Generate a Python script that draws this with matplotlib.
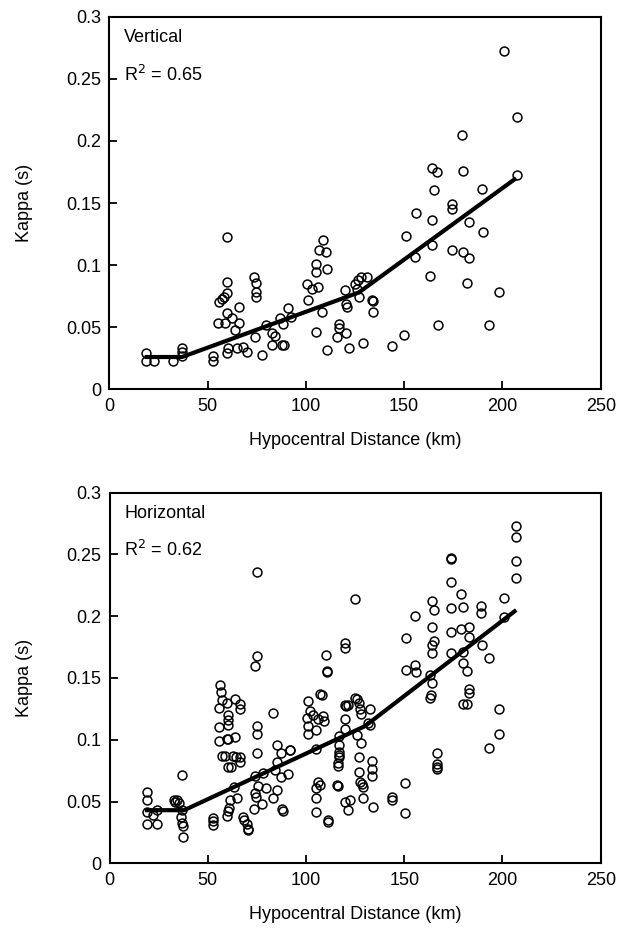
import matplotlib
matplotlib.use("Agg")
import matplotlib.pyplot as plt

plt.rcParams['font.family'] = ['Liberation Sans', 'DejaVu Sans']

# ---------------- Vertical component data ----------------
v_dist = [18.5, 18.5, 22.9, 32.6, 36.8, 36.8, 36.8,
          52.9, 52.9,
          59.7, 59.7, 60.0, 58.5, 57.2, 56.0, 66.0, 60.0, 55.4, 58.8, 62.3, 66.0, 63.9,
          60.5, 60.0, 64.8, 68.2, 69.9,
          73.6, 74.8, 74.8, 74.8, 74.1, 77.5, 79.7, 82.6, 84.3, 82.9, 87.7, 88.9,
          86.8, 88.2, 91.1, 92.3,
          108.9, 106.8, 110.2, 105.1, 105.1, 110.9, 100.7, 102.9, 106.3, 100.9, 108.0,
          105.1, 110.9,
          116.8, 116.8, 116.0, 120.4, 119.9, 121.1, 120.4, 122.1, 125.0, 126.7, 127.9,
          131.2, 125.8, 127.2, 133.5, 134.3, 134.3, 129.0,
          144.0, 149.9, 200.9, 207.2, 179.2, 164.0, 166.8, 180.1, 207.2, 165.2, 189.4,
          174.2, 174.2, 156.2, 164.0, 183.1, 189.9, 150.9, 164.1, 155.5, 174.2, 180.1,
          183.1, 163.1, 181.8, 198.1, 167.0, 193.1]
v_kappa = [0.0296, 0.0228, 0.0228, 0.0228, 0.0335, 0.0300, 0.0268,
           0.0268, 0.0230,
           0.1224, 0.0866, 0.0773, 0.0746, 0.0725, 0.0700, 0.0665, 0.0612, 0.0536, 0.0536,
           0.0571, 0.0536, 0.0477,
           0.0330, 0.0295, 0.0330, 0.0338, 0.0303,
           0.0907, 0.0858, 0.0786, 0.0746, 0.0424, 0.0276, 0.0518, 0.0451, 0.0429, 0.0357,
           0.0357, 0.0357,
           0.0571, 0.0523, 0.0657, 0.0580,
           0.1202, 0.1122, 0.1108, 0.1006, 0.0942, 0.0969, 0.0845, 0.0805, 0.0821, 0.0719,
           0.0625, 0.0464, 0.0316,
           0.0523, 0.0497, 0.0424, 0.0451, 0.0800, 0.0665, 0.0690, 0.0330, 0.0845, 0.0880,
           0.0907, 0.0907, 0.0805, 0.0746, 0.0719, 0.0712, 0.0625, 0.0370,
           0.0349, 0.0437, 0.2726, 0.2190, 0.2045, 0.1780, 0.1747, 0.1760, 0.1723, 0.1602,
           0.1610, 0.1490, 0.1449, 0.1422, 0.1363, 0.1345, 0.1269, 0.1234, 0.1162, 0.1068,
           0.1122, 0.1108, 0.1055, 0.0915, 0.0858, 0.0781, 0.0518, 0.0518]
v_fit_dist = [18, 37, 127, 207]
v_fit_kappa = [0.026, 0.026, 0.078, 0.170]

# ---------------- Horizontal component data ----------------
h_dist = [18.9, 18.9, 18.9, 18.9, 24.0, 24.0, 22.3,
          32.6, 33.5, 34.5, 35.2, 36.7, 36.5, 37.0, 37.2, 37.5, 36.8,
          52.8, 52.8, 52.8,
          56.2, 57.0, 57.4, 55.7, 59.6, 60.1, 60.1, 60.1, 55.9, 55.9, 59.6, 60.4, 57.5, 59.0,
          60.4, 62.0, 63.0, 64.6, 66.3, 66.3, 64.1, 66.3, 66.3, 64.1, 63.5, 61.3, 65.0, 60.4,
          60.8, 59.6, 67.7, 68.4, 70.0, 70.3, 70.6,
          75.2, 75.3, 74.0, 75.2, 75.3, 75.2, 74.0, 75.7, 74.0, 74.8, 73.6, 77.6, 79.9, 78.2,
          83.3, 85.1, 87.5, 91.8, 92.1, 85.0, 84.1, 87.2, 90.9, 85.0, 83.0, 87.9, 88.4,
          100.6, 101.0, 100.8, 101.1, 102.3, 103.6, 105.0, 106.3, 107.1, 108.0, 108.5, 109.0,
          110.1, 110.8, 110.9, 105.0, 106.2, 107.0, 105.0, 105.0, 105.0, 111.0, 111.3,
          115.8, 116.4, 116.8, 116.8, 116.8, 116.8, 119.7, 119.7, 120.0, 120.6, 120.0, 120.0,
          120.0, 121.4, 122.3, 116.3, 116.3, 116.8, 121.4,
          124.8, 125.2, 126.2, 127.0, 127.4, 128.0, 125.8, 127.9, 127.0, 127.0, 127.5, 128.3,
          129.0, 129.1, 132.5, 131.8, 132.8, 133.8, 133.8, 133.8, 134.2,
          144.0, 144.0, 150.2, 150.2, 150.8, 150.8, 155.3, 155.3, 156.2,
          164.3, 165.2, 164.3, 165.0, 164.3, 164.3, 163.0, 164.3, 163.4, 162.9, 166.9, 166.9,
          166.9, 166.9,
          174.0, 174.0, 174.0, 179.1, 174.0, 180.0, 174.0, 179.0, 183.0, 183.0, 174.0, 180.0,
          180.0, 182.1, 183.0, 183.0, 180.0, 182.0,
          189.2, 189.2, 189.7, 193.1, 193.1, 198.0, 198.0, 200.8, 200.8, 207.0, 207.0, 207.0,
          207.0]
h_kappa = [0.0580, 0.0510, 0.0415, 0.0320, 0.0435, 0.0320, 0.0390,
           0.0510, 0.0500, 0.0510, 0.0490, 0.0435, 0.0375, 0.0330, 0.0300, 0.0215, 0.0714,
           0.0365, 0.0340, 0.0310,
           0.1443, 0.1390, 0.1320, 0.1254, 0.1294, 0.1200, 0.1160, 0.1120, 0.1106, 0.0990,
           0.1010, 0.1010, 0.0870, 0.0870, 0.0780, 0.0780, 0.0870, 0.0860, 0.0860, 0.0820,
           0.1327, 0.1290, 0.1250, 0.1025, 0.0620, 0.0512, 0.0526, 0.0420, 0.0445, 0.0380,
           0.0378, 0.0350, 0.0320, 0.0280, 0.0270,
           0.2360, 0.1680, 0.1600, 0.1110, 0.1046, 0.0895, 0.0706, 0.0625, 0.0566, 0.0534,
           0.0440, 0.0480, 0.0607, 0.0728,
           0.1219, 0.0957, 0.0890, 0.0917, 0.0917, 0.0822, 0.0755, 0.0700, 0.0720, 0.0590,
           0.0526, 0.0440, 0.0423,
           0.1180, 0.1110, 0.1050, 0.1310, 0.1230, 0.1200, 0.1080, 0.1170, 0.1370, 0.1360,
           0.1190, 0.1150, 0.1690, 0.1556, 0.1545, 0.0922, 0.0660, 0.0634, 0.0607, 0.0526,
           0.0418, 0.0350, 0.0337,
           0.0634, 0.0810, 0.0880, 0.0900, 0.0957, 0.1030, 0.1785, 0.1745, 0.1280, 0.1275,
           0.1170, 0.1090, 0.0500, 0.0430, 0.0512, 0.0787, 0.0625, 0.0860, 0.1280,
           0.2136, 0.1340, 0.1330, 0.1300, 0.1250, 0.1210, 0.1040, 0.0970, 0.0863, 0.0741,
           0.0660, 0.0640, 0.0620, 0.0531, 0.1250, 0.1135, 0.1120, 0.0830, 0.0765, 0.0707,
           0.0458,
           0.0540, 0.0512, 0.0652, 0.0405, 0.1826, 0.1564, 0.2004, 0.1605, 0.1550,
           0.2125, 0.2050, 0.1915, 0.1800, 0.1770, 0.1704, 0.1524, 0.1456, 0.1362, 0.1335,
           0.0890, 0.0804, 0.0782, 0.0763,
           0.2473, 0.2460, 0.2279, 0.2184, 0.2063, 0.2077, 0.1874, 0.1900, 0.1915, 0.1834,
           0.1699, 0.1713, 0.1618, 0.1556, 0.1408, 0.1380, 0.1286, 0.1286,
           0.2082, 0.2028, 0.1766, 0.1664, 0.0930, 0.1246, 0.1044, 0.2144, 0.1996, 0.2729,
           0.2643, 0.2446, 0.2311]
h_fit_dist = [18, 38, 130, 207]
h_fit_kappa = [0.043, 0.043, 0.111, 0.205]

x_ticks = [0, 50, 100, 150, 200, 250]
y_ticks = [0, 0.05, 0.1, 0.15, 0.2, 0.25, 0.3]
y_tick_labels = ['0', '0.05', '0.1', '0.15', '0.2', '0.25', '0.3']

panels = [
    ("Vertical", "R$^2$ = 0.65", v_dist, v_kappa, v_fit_dist, v_fit_kappa,
     [109.3 / 626, 1 - 389.3 / 930, 491.4 / 626, 372.6 / 930]),
    ("Horizontal", "R$^2$ = 0.62", h_dist, h_kappa, h_fit_dist, h_fit_kappa,
     [109.5 / 626, 1 - 863.3 / 930, 491.2 / 626, 370.6 / 930]),
]

fig = plt.figure(figsize=(6.26, 9.30), dpi=100)
FS = 13

for title, r2, xd, yd, fx, fy, rect in panels:
    ax = fig.add_axes(rect)
    ax.plot(xd, yd, linestyle='none', marker='o', markersize=6.4,
            markerfacecolor='none', markeredgecolor='black', markeredgewidth=1.1)
    ax.plot(fx, fy, color='black', linewidth=3.0, solid_capstyle='butt')
    ax.set_xlim(0, 250)
    ax.set_ylim(0, 0.3)
    ax.set_xticks(x_ticks)
    ax.set_xticklabels([str(t) for t in x_ticks])
    ax.set_yticks(y_ticks)
    ax.set_yticklabels(y_tick_labels)
    ax.tick_params(direction='in', length=6, width=1.3, labelsize=FS, pad=6)
    for s in ax.spines.values():
        s.set_linewidth(1.5)
    ax.set_xlabel("Hypocentral Distance (km)", fontsize=FS)
    ax.set_ylabel("Kappa (s)", fontsize=FS)
    ax.xaxis.set_label_coords(0.5, -0.115)
    ax.yaxis.set_label_coords(-0.155, 0.5)
    ax.text(0.03, 0.945, title, transform=ax.transAxes, fontsize=FS,
            ha='left', va='center')
    ax.text(0.03, 0.845, r2, transform=ax.transAxes, fontsize=FS,
            ha='left', va='center')

fig.savefig("out.png", dpi=100)
